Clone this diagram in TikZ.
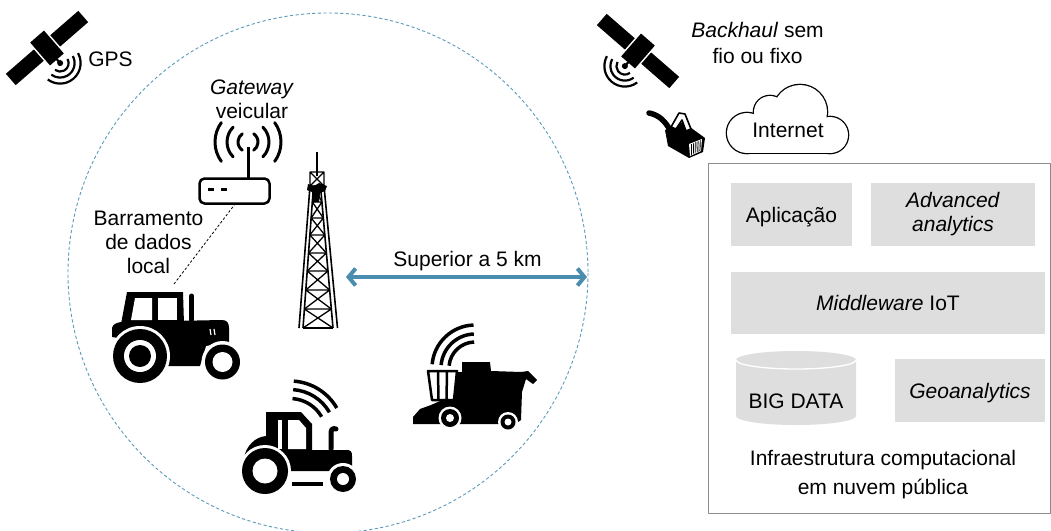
\documentclass[tikz,border=0pt]{standalone}
\usepackage{fontspec}
\setmainfont{Liberation Sans}
\usetikzlibrary{arrows.meta}

\definecolor{ringblue}{HTML}{5A9BBA}
\definecolor{spanblue}{HTML}{4B8DAE}
\definecolor{layergray}{HTML}{DEDEDE}
\definecolor{framegray}{HTML}{8C8C8C}

\tikzset{
  txt/.style={font=\fontsize{21}{24}\selectfont, inner sep=0pt, align=center},
  layerbox/.style={txt, fill=layergray},
  oneline/.style={text height=15pt, text depth=0pt},
  wave/.style={line width=3pt, line cap=round},
  pics/satellite/.style={code={
    \fill (-48,-7.5) rectangle (48,7.5);
    \filldraw[draw=white, line width=1.4pt] (-10,-16) rectangle (10,16);
    \draw[line width=2.2pt] (0,15) -- (0,20);
    \fill (0,20) circle[radius=3];
    \foreach \rad in {8.5,14.5,20.5}
      \draw[line width=2.2pt] (0,20) ++(12:\rad) arc[start angle=12, end angle=168, radius=\rad];
  }},
}

\begin{document}
\begin{tikzpicture}[x=1pt, y=-1pt, line join=round]
\useasboundingbox (0,0) rectangle (1051,530);

% coverage area of the rural network
\draw[ringblue, line width=0.9pt, dash pattern=on 3.2pt off 2.4pt] (328,273) circle[radius=260];

% satellites
\pic[rotate=41] at (47,48) {satellite};
\pic[rotate=-41] at (638,51) {satellite};
\node[txt, anchor=base] (gps) at (110.5,66.7) {GPS};
\node[txt, font=\fontsize{21}{25.5}\selectfont] (backhaul) at (757.5,42.8) {\textit{Backhaul} sem\\fio ou fixo};

% vehicle gateway
\node[draw, line width=2.5pt, rounded corners=5pt, minimum width=70pt, minimum height=25pt, inner sep=0pt] (gateway) at (234.5,191) {};
\draw[line width=2.5pt] (208,189.5) -- (214,189.5) (221,189.5) -- (227,189.5);
\draw[line width=3pt] (248,178) -- (248,147);
\foreach \rad/\ang in {10/55, 21/45, 33/36} {
  \draw[wave] (248,142) ++(180-\ang:\rad) arc[start angle=180-\ang, end angle=180+\ang, radius=\rad];
  \draw[wave] (248,142) ++(-\ang:\rad) arc[start angle=-\ang, end angle=\ang, radius=\rad];
}
\node[txt] (gwlabel) at (252,99.4) {\textit{Gateway}\\veicular};
\node[txt] (buslabel) at (148.5,242.5) {Barramento\\de dados\\local};

% lattice tower
\draw[line width=1.5pt] (317,152) -- (317,176);
\draw[line width=1.6pt] (310,186) -- (299,328) (313.5,186) -- (303,328) (320.5,186) -- (333,328) (324,186) -- (337.5,328);
\foreach \ya/\yb in {186/202, 202/218, 218/235, 235/253, 253/271, 271/290, 290/309, 309/328} {
  \pgfmathsetmacro\la{313.5-10.5*(\ya-186)/142}
  \pgfmathsetmacro\lb{313.5-10.5*(\yb-186)/142}
  \pgfmathsetmacro\ra{320.5+12.5*(\ya-186)/142}
  \pgfmathsetmacro\rb{320.5+12.5*(\yb-186)/142}
  \draw[line width=1.3pt] (\la,\ya) -- (\ra,\ya) (\la,\ya) -- (\rb,\yb) (\ra,\ya) -- (\lb,\yb);
}
\draw[line width=1.3pt] (303,328) -- (333,328);
\draw[line width=1.4pt] (310,172) rectangle (324,186) (310,172) -- (324,186) (324,172) -- (310,186);
\fill (308,184) -- (314,186) -- (319,183) -- (327,186) -- (325,191) -- (320,193) -- (319,202) -- (313,202) -- (312,192) -- (307,190) -- cycle;

% span of the coverage
\coordinate (spanL) at (346,277);
\coordinate (spanR) at (587,277);
\draw[spanblue, line width=4pt, {Straight Barb[length=7pt,width=17pt]}-{Straight Barb[length=7pt,width=17pt]}] (spanL) -- (spanR);
\node[txt, anchor=base] (span) at (467.5,266) {Superior a 5 km};

% large tractor on the wired bus
\fill (127,292) -- (183,292) -- (184,324) -- (121,324) -- cycle;
\fill[white] (135,298) -- (152,298) -- (152,320) -- (131,320) -- cycle;
\fill[white] (158,298) -- (177,298) -- (177,320) -- (158,320) -- cycle;
\fill (112,337) -- (112,328) .. controls (113,324) and (116,323) .. (121,322) -- (222,320) .. controls (227,320) and (229,323) .. (229,328) -- (229,342) -- (206,346) -- (200,366) -- (166,366) -- (163,345) -- cycle;
\draw[line width=5pt, line cap=round] (191.5,320) -- (191.5,296);
\draw[white, line width=1.2pt] (210,329) -- (211,335) (214,329) -- (215,335);
\fill[white] (140,356) circle[radius=30];
\fill (140,356) circle[radius=27];
\fill[white] (140,356) circle[radius=16];
\fill (140,356) circle[radius=11];
\fill[white] (222.5,362) circle[radius=21];
\fill (222.5,362) circle[radius=17.5];
\fill[white] (222.5,362) circle[radius=10];
\coordinate (tractorbus) at (174,284);
\draw[line width=0.8pt, dash pattern=on 2.5pt off 2pt] (tractorbus) -- (gateway.south);

% small connected tractor
\fill (266,412) -- (301,412) -- (312,424) -- (312,450) -- (347,450) .. controls (351,450) and (352,452) .. (352,456) -- (352,471) -- (244,471) -- (244,458) .. controls (246,446) and (255,437) .. (266,436) -- cycle;
\fill[white] (278,420) -- (282,420) -- (282,449) -- (278,449) -- cycle;
\fill[white] (288,420) -- (299,420) -- (306,428) -- (306,449) -- (288,449) -- cycle;
\draw[line width=5pt, line cap=round] (331,449) -- (331,433) .. controls (331,429) and (333,428) .. (336,429);
\fill[white] (265,471) circle[radius=26];
\fill (265,471) circle[radius=23];
\fill[white] (265,471) circle[radius=12.5];
\fill[white] (343,479) circle[radius=16];
\fill (343,479) circle[radius=13];
\fill[white] (343,479) circle[radius=6];
\fill (292,482) rectangle (323,486);
\foreach \rad in {36.5,45.5,54}
  \draw[line width=3.5pt] (290,435) ++(-86:\rad) arc[start angle=-86, end angle=-30, radius=\rad];

% combine harvester
\fill (457,372) -- (462,372) -- (462,362) -- (490,362) -- (491,371) -- (521,372) -- (528,371) -- (537,380) -- (533,384) -- (526,379) -- (522,392) -- (521,420) -- (515,424) -- (456,424) -- (452,402) -- cycle;
\filldraw[fill=white, line width=2.5pt] (428,371) -- (457,371) -- (454,400) -- (432,400) -- cycle;
\draw[line width=2.5pt] (438,371) -- (438.5,400) (447,371) -- (446.5,400);
\fill (413,424) -- (413,417) -- (420,409) -- (431,405) -- (447,398) -- (456,404) -- (456,424) -- cycle;
\fill[white] (450,418) circle[radius=11.5];
\fill (450,418) circle[radius=9];
\fill[white] (450,418) circle[radius=4];
\fill[white] (508,422) circle[radius=10];
\fill (508,422) circle[radius=7.5];
\fill[white] (508,422) circle[radius=3.5];
\foreach \rad in {26,34,43}
  \draw[line width=3.5pt] (475,368) ++(185:\rad) arc[start angle=185, end angle=268, radius=\rad];

% wired uplink plug
\draw[line width=5.5pt, line cap=round] (649,113) .. controls (659,115) and (665,121) .. (670,130);
\fill (665,130) -- (683,122) -- (705,138) -- (703,152) -- (689,158) -- (668,146) -- cycle;
\filldraw[fill=white, line width=1.6pt] (671,127) -- (679,113) -- (685,114) -- (691,129) -- (686,131) -- (682,120) -- (676,129) -- cycle;
\fill[white] (689,144) -- (702,139) -- (701,151) -- (690,156) -- cycle;
\foreach \k in {0,...,4}
  \draw[line width=0.9pt] (691.5+2.2*\k,144-0.9*\k) -- (691.5+2.1*\k,154.5-0.9*\k);

% internet cloud
\foreach \cx/\cy/\rad in {747/133/20, 770/112/16, 800/112/27, 830/135/18}
  \draw[line width=2.6pt] (\cx,\cy) circle[radius=\rad];
\draw[line width=2.6pt] (747,125) rectangle (830,153);
\foreach \cx/\cy/\rad in {747/133/20, 770/112/16, 800/112/27, 830/135/18}
  \fill[white] (\cx,\cy) circle[radius=\rad];
\fill[white] (747,125) rectangle (830,153);
\node[txt, anchor=base] (internet) at (788,137) {Internet};

% public cloud infrastructure
\node[draw=framegray, line width=1pt, minimum width=342pt, minimum height=350pt, inner sep=0pt] (cloudinfra) at (879,338) {};
\node[layerbox, oneline, minimum width=121pt, minimum height=63pt] (app) at (791.5,214.5) {Aplicação};
\node[layerbox, minimum width=164pt, minimum height=63pt] (adv) at (953,214.5) {\textit{Advanced}\\\textit{analytics}};
\node[layerbox, oneline, minimum width=314pt, minimum height=62pt] (mid) at (888,303) {\textit{Middleware} IoT};
\fill[layergray] (736,360) -- (736,416) arc[start angle=180, end angle=0, x radius=60, y radius=9] -- (856,360) arc[start angle=0, end angle=-180, x radius=60, y radius=9] -- cycle;
\draw[white, line width=1.3pt] (736,360) arc[start angle=180, end angle=0, x radius=60, y radius=9];
\node[txt, anchor=base] (bigdata) at (796,408) {BIG DATA};
\node[layerbox, oneline, minimum width=150pt, minimum height=63pt] (geo) at (970,390.5) {\textit{Geoanalytics}};
\node[txt, font=\fontsize{21}{29}\selectfont] (infra) at (883,475) {Infraestrutura computacional\\em nuvem pública};
\end{tikzpicture}
\end{document}
